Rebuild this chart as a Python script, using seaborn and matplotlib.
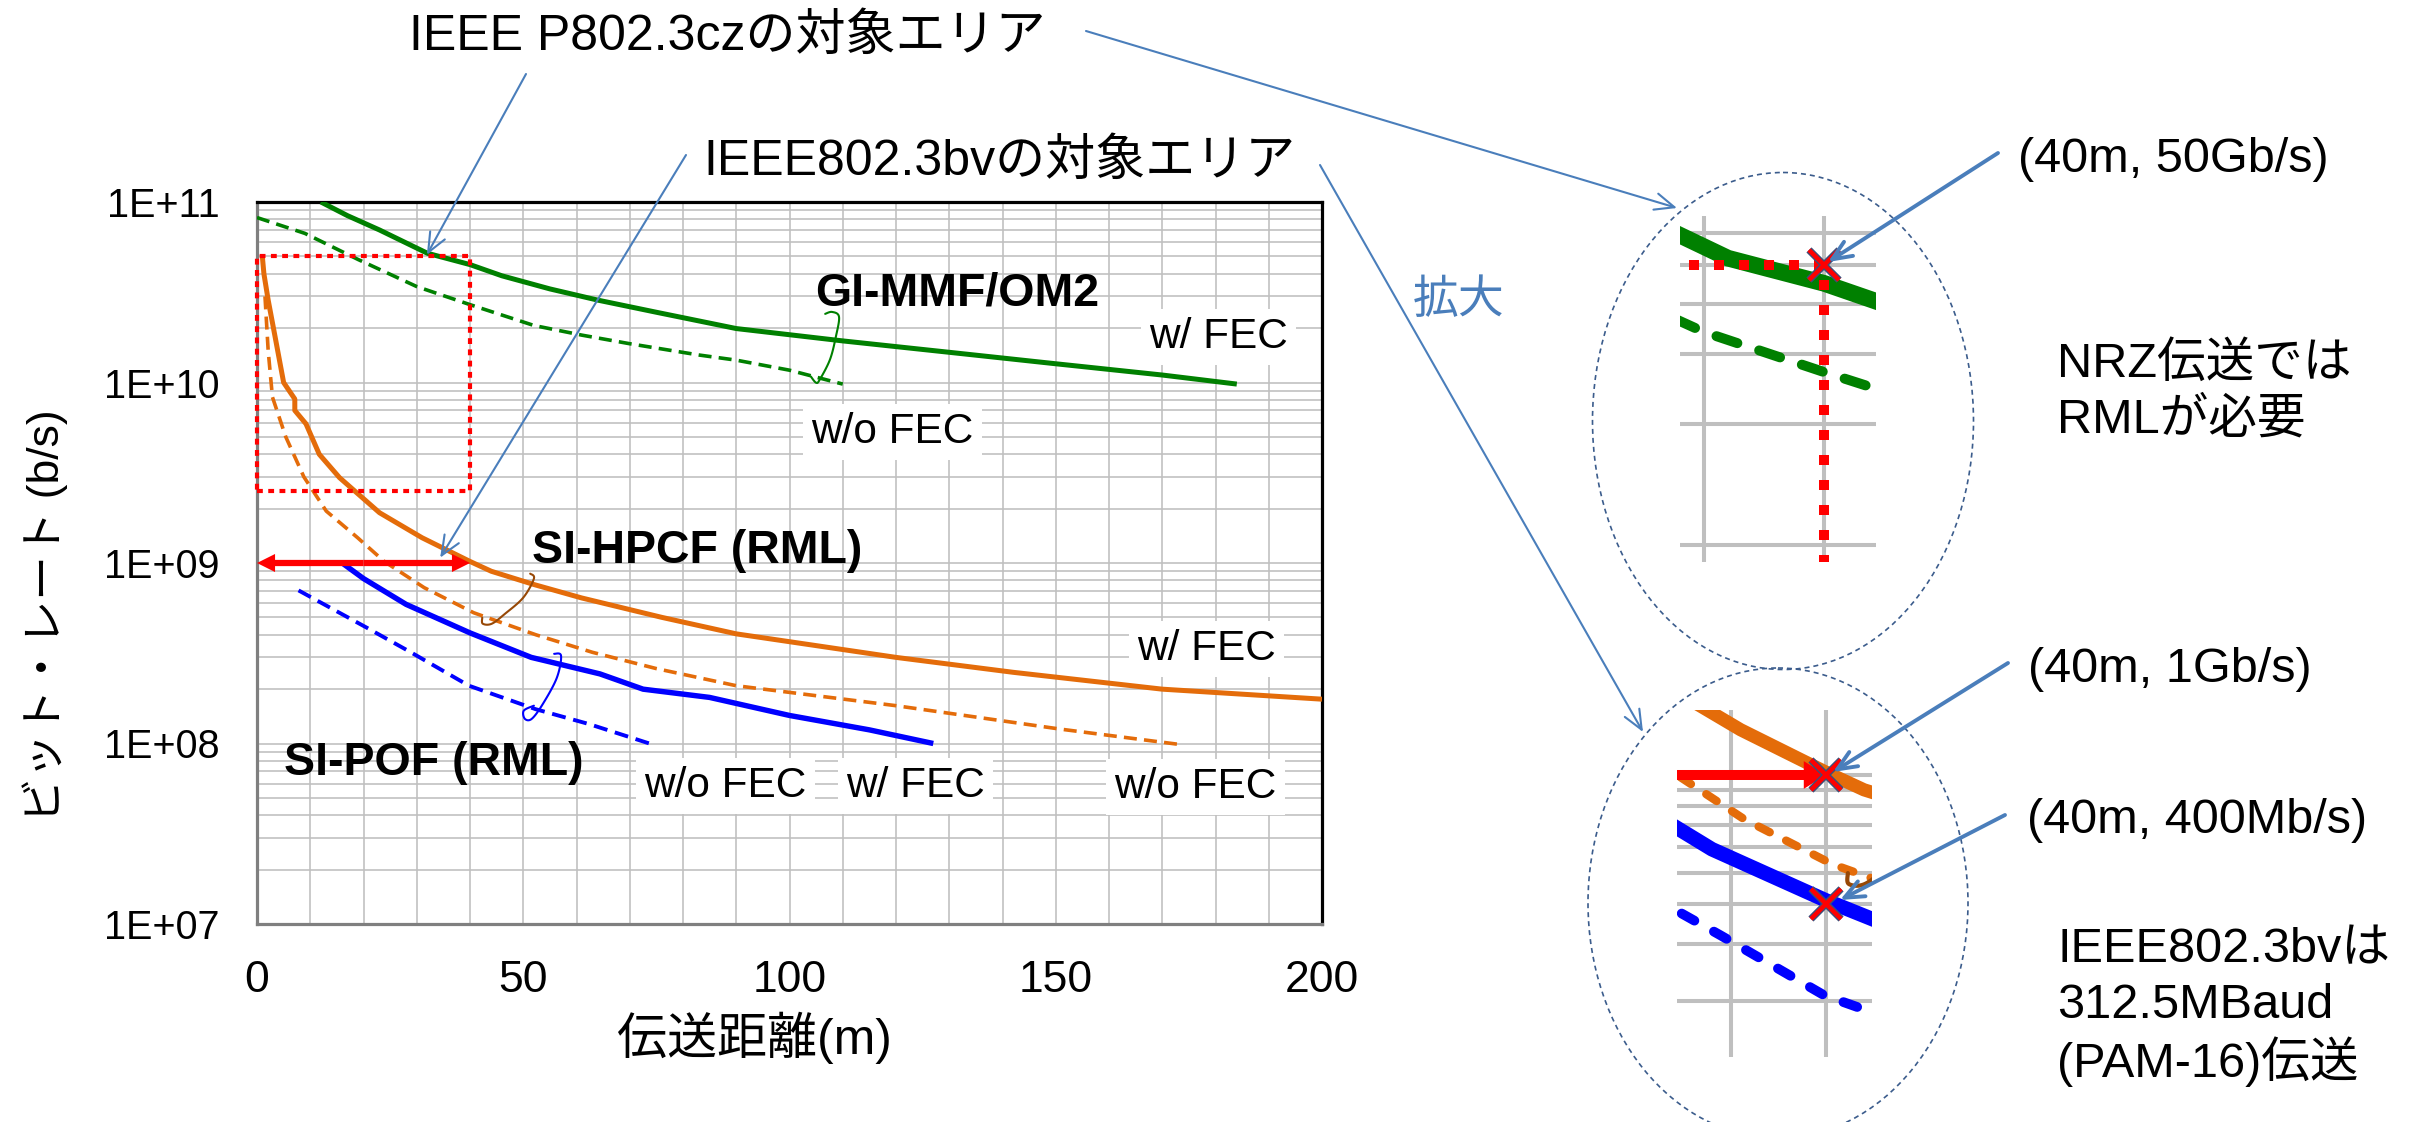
import numpy as np
import matplotlib
matplotlib.use("Agg")
import matplotlib.pyplot as plt
import matplotlib.patheffects as pe
from matplotlib.patches import Ellipse, Rectangle
from matplotlib.ticker import MultipleLocator, LogLocator, NullFormatter
import seaborn as sns

# ---------------- data: transmission distance (m) vs. bit rate (b/s) ----------------
gi_fec_dist = [12, 17, 23, 32, 40, 46, 55, 64, 75, 90, 110, 130, 150, 170, 184]
gi_fec_rate = [1.0e11, 8.4e10, 7.0e10, 5.2e10, 4.5e10, 3.9e10, 3.3e10, 2.86e10,
               2.45e10, 1.99e10, 1.7e10, 1.47e10, 1.27e10, 1.1e10, 9.8e9]

gi_nofec_dist = [0, 9, 19, 30, 40, 52, 61, 70, 83, 90, 100, 110]
gi_nofec_rate = [8.2e10, 6.7e10, 4.8e10, 3.4e10, 2.7e10, 2.07e10, 1.83e10, 1.64e10,
                 1.42e10, 1.33e10, 1.17e10, 9.8e9]

hpcf_fec_dist = [1, 1.3, 2.1, 3.4, 5.0, 7.1, 7.1, 9.2, 11.7, 15.5, 23, 31, 40, 44,
                 52, 61, 76, 90, 120, 142, 170, 200]
hpcf_fec_rate = [5e10, 4e10, 2.86e10, 1.79e10, 1.0e10, 8.1e9, 7.0e9, 5.9e9, 4.0e9,
                 2.97e9, 1.9e9, 1.38e9, 1.02e9, 9.0e8, 7.6e8, 6.4e8, 5.0e8, 4.05e8,
                 3.0e8, 2.48e8, 2.0e8, 1.76e8]

hpcf_nofec_dist = [1.5, 2.1, 2.9, 5.4, 8.8, 13, 18.9, 23.9, 31.4, 40.7, 52.4, 63, 75,
                   90, 120, 151, 173]
hpcf_nofec_rate = [3e10, 1.5e10, 8.3e9, 5e9, 3e9, 1.94e9, 1.38e9, 1.02e9, 7.3e8, 5.3e8,
                   4.0e8, 3.2e8, 2.6e8, 2.09e8, 1.62e8, 1.2e8, 9.9e7]

pof_fec_dist = [16, 20, 28, 40, 51.5, 64.4, 72.5, 85, 100, 115, 127]
pof_fec_rate = [1e9, 8.2e8, 5.9e8, 4.1e8, 3.0e8, 2.43e8, 2.0e8, 1.8e8, 1.43e8,
                1.19e8, 1.0e8]

pof_nofec_dist = [7.8, 14, 20.5, 28.9, 39.8, 52.3, 62.4, 73.7]
pof_nofec_rate = [7.05e8, 5.6e8, 4.4e8, 3.2e8, 2.09e8, 1.55e8, 1.28e8, 1.0e8]

# axis ticks
x_ticks = [0, 50, 100, 150, 200]
y_ticks = [1e7, 1e8, 1e9, 1e10, 1e11]
y_tick_labels = ["1E+07", "1E+08", "1E+09", "1E+10", "1E+11"]

# target operating points of the two standards
target_dist = 40        # m
cz_rate = 5e10          # IEEE P802.3cz
cz_floor = 2.5e9        # lower edge of the P802.3cz area
bv_rate = 1e9           # IEEE 802.3bv
pof_rate = 4e8          # SI-POF at 40 m

# hand-drawn brackets tying each w/ FEC curve to its w/o FEC curve
br_gi_dist = [106.7, 108.0, 109.3, 108.7, 107.6, 105.7, 105.0, 104.0]
br_gi_rate = [2.40e10, 2.46e10, 2.31e10, 1.79e10, 1.34e10, 1.04e10, 9.97e9, 1.08e10]
br_hpcf_dist = [51.3, 52.0, 50.0, 46.6, 44.1, 42.4, 42.3]
br_hpcf_rate = [8.73e8, 8.19e8, 6.43e8, 5.24e8, 4.61e8, 4.61e8, 4.98e8]
br_pof_dist = [55.8, 57.1, 56.3, 53.7, 51.6, 50.3, 50.1, 52.0]
br_pof_rate = [3.14e8, 3.06e8, 2.31e8, 1.66e8, 1.37e8, 1.37e8, 1.52e8, 1.62e8]

# ---------------- styling ----------------
W, H, DPI = 2409, 1122, 100
GREEN, ORANGE, BLUE, RED = "#008000", "#E46C0A", "#0000FF", "#FF0000"
BROWN = "#974806"
CALLOUT = "#4A7EBB"
RING = "#3B5C8C"
GRID = "#BFBFBF"

sns.set_theme(style="white")
plt.rcParams["font.family"] = ["Liberation Sans", "Noto Sans CJK JP"]
plt.rcParams["axes.unicode_minus"] = False
plt.rcParams["text.color"] = "black"
plt.rcParams["xtick.color"] = "black"
plt.rcParams["ytick.color"] = "black"

fig = plt.figure(figsize=(W / DPI, H / DPI), dpi=DPI)
fig.patch.set_facecolor("white")


def rect(x0, y0, x1, y1):
    return [x0 / W, 1 - y1 / H, (x1 - x0) / W, (y1 - y0) / H]


series = [
    (gi_fec_dist, gi_fec_rate, GREEN, True),
    (gi_nofec_dist, gi_nofec_rate, GREEN, False),
    (hpcf_fec_dist, hpcf_fec_rate, ORANGE, True),
    (hpcf_nofec_dist, hpcf_nofec_rate, ORANGE, False),
    (pof_fec_dist, pof_fec_rate, BLUE, True),
    (pof_nofec_dist, pof_nofec_rate, BLUE, False),
]
brackets = [
    (br_gi_dist, br_gi_rate, GREEN),
    (br_hpcf_dist, br_hpcf_rate, BROWN),
    (br_pof_dist, br_pof_rate, BLUE),
]


def smooth(xs, ys, n=14):
    """Catmull-Rom curve through the bracket points (in log-rate space)."""
    pts = np.column_stack([xs, np.log10(ys)])
    P = np.vstack([pts[0], pts, pts[-1]])
    out = []
    t = np.linspace(0, 1, n, endpoint=False)[:, None]
    for i in range(1, len(P) - 2):
        p0, p1, p2, p3 = P[i - 1], P[i], P[i + 1], P[i + 2]
        out.append(0.5 * (2 * p1 + (-p0 + p2) * t
                          + (2 * p0 - 5 * p1 + 4 * p2 - p3) * t ** 2
                          + (-p0 + 3 * p1 - 3 * p2 + p3) * t ** 3))
    out.append(P[-2][None])
    c = np.vstack(out)
    return c[:, 0], 10 ** c[:, 1]


def draw_curves(a, solid_lw, dash_lw, dash_pat, cap):
    for xs, ys, c, fec in series:
        if fec:
            sns.lineplot(x=xs, y=ys, ax=a, color=c, lw=solid_lw[c], sort=False,
                         estimator=None, solid_capstyle="butt", zorder=3)
        else:
            sns.lineplot(x=xs, y=ys, ax=a, color=c, lw=dash_lw[c], sort=False,
                         estimator=None, linestyle=(0, dash_pat[c]),
                         dash_capstyle=cap, zorder=3)


def draw_brackets(a, lw):
    for xs, ys, c in brackets:
        bx, by = smooth(xs, ys)
        a.plot(bx, by, color=c, lw=lw, zorder=4, solid_capstyle="round")


def red_arrow(a, x0, x1, y, style, ms):
    a.annotate("", xy=(x1, y), xytext=(x0, y), xycoords="data",
               arrowprops=dict(arrowstyle=style, color=RED, lw=0, shrinkA=0,
                               shrinkB=0, mutation_scale=ms), zorder=5)


# ---------------- main chart ----------------
ax = fig.add_axes(rect(257, 202, 1322, 924))
ax.set_yscale("log")
ax.set_xlim(0, 200)
ax.set_ylim(1e7, 1e11)
ax.set_facecolor("white")
ax.set_axisbelow(True)

ax.set_xticks(x_ticks)
ax.set_xticklabels([str(v) for v in x_ticks])
ax.xaxis.set_minor_locator(MultipleLocator(10))
ax.set_yticks(y_ticks)
ax.set_yticklabels(y_tick_labels)
ax.yaxis.set_minor_locator(LogLocator(base=10, subs=np.arange(2, 10), numticks=50))
ax.yaxis.set_minor_formatter(NullFormatter())
ax.grid(True, which="both", color=GRID, lw=1.15)
ax.tick_params(axis="x", which="major", direction="in", length=9, width=1.5,
               color="#595959", labelsize=32, pad=26)
ax.tick_params(axis="y", which="major", direction="in", length=8, width=1.5,
               color="#595959", labelsize=28.5, pad=27)
ax.tick_params(which="minor", length=0)
for side in ("left", "bottom"):
    ax.spines[side].set_color("#7F7F7F")
    ax.spines[side].set_linewidth(2.3)
for side in ("top", "right"):
    ax.spines[side].set_color("black")
    ax.spines[side].set_linewidth(2.3)
ax.set_xlabel("")
ax.set_ylabel("")

draw_curves(ax,
            solid_lw={GREEN: 3.6, ORANGE: 3.6, BLUE: 3.9},
            dash_lw={GREEN: 2.6, ORANGE: 2.6, BLUE: 2.8},
            dash_pat={GREEN: (3.6, 2.0), ORANGE: (3.6, 2.0), BLUE: (3.6, 2.0)},
            cap="butt")
draw_brackets(ax, 1.5)

ax.add_patch(Rectangle((0, cz_floor), target_dist, cz_rate - cz_floor, fill=False,
                       ec=RED, lw=3.0, ls=(0, (1.4, 1.3)), zorder=4, clip_on=False))
red_arrow(ax, target_dist / 2, 0, bv_rate,
          "simple,head_length=1.3,head_width=1.3,tail_width=0.45", 10)
red_arrow(ax, target_dist / 2, target_dist, bv_rate,
          "simple,head_length=1.3,head_width=1.3,tail_width=0.45", 10)


# ---------------- magnified views ----------------
def make_inset(box, xlim, ylim):
    a = fig.add_axes(rect(*box))
    a.set_yscale("log")
    a.set_xlim(*xlim)
    a.set_ylim(*ylim)
    a.set_facecolor("white")
    a.set_axisbelow(True)
    a.xaxis.set_major_locator(MultipleLocator(10))
    a.yaxis.set_major_locator(LogLocator(base=10, subs=np.arange(1, 10), numticks=50))
    a.yaxis.set_minor_locator(LogLocator(base=10, subs=np.arange(1, 10), numticks=50))
    a.grid(True, which="major", color=GRID, lw=2.9)
    a.tick_params(which="both", length=0, labelbottom=False, labelleft=False)
    for s in a.spines.values():
        s.set_visible(False)
    return a


def cross(a, x, y):
    sns.scatterplot(x=[x], y=[y], ax=a, marker="x", s=470, color=RED, linewidth=3.2,
                    zorder=8, legend=False,
                    path_effects=[pe.Stroke(linewidth=5.2, foreground="#3C4F7A"),
                                  pe.Normal()])


# around (40 m, 50 Gb/s)
top = make_inset((1680, 216, 1876, 562), (28.0, 44.33), (10 ** 9.9565, 10 ** 10.8215))
draw_curves(top,
            solid_lw={GREEN: 12, ORANGE: 10, BLUE: 10},
            dash_lw={GREEN: 7.2, ORANGE: 6, BLUE: 7},
            dash_pat={GREEN: (2.2, 2.3), ORANGE: (1.5, 2.2), BLUE: (1.5, 2.3)},
            cap="round")
top.add_patch(Rectangle((0, cz_floor), target_dist, cz_rate - cz_floor, fill=False,
                        ec=RED, lw=7.2, ls=(0, (1.0, 1.5)), zorder=4))
cross(top, target_dist, cz_rate)

# around (40 m, 1 Gb/s) and (40 m, 400 Mb/s)
bot = make_inset((1677, 710, 1872, 1057), (24.32, 44.84), (10 ** 8.1296, 10 ** 9.2006))
draw_curves(bot,
            solid_lw={GREEN: 12, ORANGE: 9.5, BLUE: 10.5},
            dash_lw={GREEN: 7.2, ORANGE: 6, BLUE: 7},
            dash_pat={GREEN: (2.2, 2.3), ORANGE: (1.5, 2.2), BLUE: (1.5, 2.3)},
            cap="round")
draw_brackets(bot, 3.0)
red_arrow(bot, 24.32, target_dist, bv_rate,
          "simple,head_length=1.6,head_width=2.0,tail_width=0.72", 10)
cross(bot, target_dist, bv_rate)
cross(bot, target_dist, pof_rate)

# ---------------- overlay: texts, call-outs, rings ----------------
cv = fig.add_axes([0, 0, 1, 1], zorder=10)
cv.set_xlim(0, W)
cv.set_ylim(H, 0)
cv.axis("off")

HEAD = "->,head_length=0.7,head_width=0.3"


def callout(start, end, end_coords, lw=1.5):
    cv.annotate("", xy=end, xycoords=end_coords, xytext=start,
                textcoords=cv.transData,
                arrowprops=dict(arrowstyle=HEAD, color=CALLOUT, lw=lw, shrinkA=0,
                                shrinkB=0, mutation_scale=20))


def txt(x, y, s, size, **kw):
    kw.setdefault("ha", "left")
    kw.setdefault("va", "baseline")
    cv.text(x, y, s, fontsize=size, **kw)


# titles of the two target areas
txt(409, 50, "IEEE P802.3czの対象エリア", 36)
txt(703, 175, "IEEE802.3bvの対象エリア", 36)
callout((526, 74), (31.9, 5.1e10), ax.transData)
callout((1086, 31), (1677, 208), cv.transData)
callout((686, 155), (34.4, 1.07e9), ax.transData)
callout((1320, 165), (1643, 732), cv.transData)

txt(1459, 301, "拡大", 33, ha="center", va="center", color=CALLOUT)

# rings around the magnified views
ring_style = dict(fill=False, ec=RING, lw=1.2, ls=(0, (3, 2.4)))
cv.add_patch(Ellipse((1783, 421), 381, 497, **ring_style))
cv.add_patch(Ellipse((1778, 903), 380, 470, **ring_style))

# operating-point notes
txt(2018, 172, "(40m, 50Gb/s)", 35)
callout((1998, 153), (1828, 262), cv.transData, lw=2.8)
txt(2057, 377, "NRZ伝送では", 35)
txt(2057, 433, "RMLが必要", 35)
txt(2028, 682, "(40m, 1Gb/s)", 35)
callout((2008, 663), (1833, 772), cv.transData, lw=2.8)
txt(2027, 833, "(40m, 400Mb/s)", 35)
callout((2005, 815), (1840, 900), cv.transData, lw=2.8)
txt(2057, 962, "IEEE802.3bvは", 35)
txt(2057, 1018, "312.5MBaud", 35)
txt(2057, 1077, "(PAM-16)伝送", 35)

# fiber names and FEC labels inside the chart
txt(815, 305, "GI-MMF/OM2", 33.5, fontweight="bold")
txt(532, 563, "SI-HPCF (RML)", 33.5, fontweight="bold")
txt(284, 775, "SI-POF (RML)", 33.5, fontweight="bold")
box = dict(boxstyle="square,pad=0.2", fc="white", ec="none")
txt(1149, 348, "w/ FEC", 30.5, bbox=box)
txt(811, 443, "w/o FEC", 30.5, bbox=box)
txt(1137, 660, "w/ FEC", 30.5, bbox=box)
txt(644, 797, "w/o FEC", 30.5, bbox=box)
txt(846, 797, "w/ FEC", 30.5, bbox=box)
txt(1114, 798, "w/o FEC", 30.5, bbox=box)

# axis titles
txt(754, 1038, "伝送距離(m)", 36, ha="center", va="center")
txt(45, 616, "ビット・レート (b/s)", 32, ha="center", va="center", rotation=90)

fig.savefig("out.png", dpi=DPI, facecolor="white")
